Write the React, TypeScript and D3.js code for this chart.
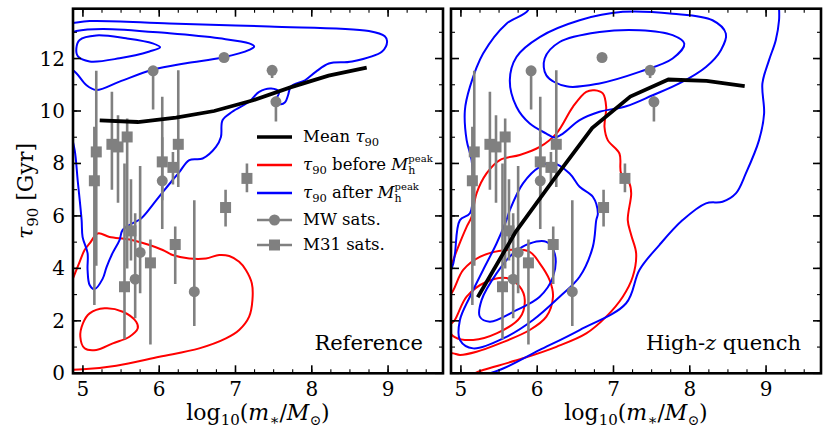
import React from "react";
import * as d3 from "d3";

type Pt = [number, number];
// [log10 mass, tau90, lower, upper]
type Sat = [number, number, number, number];

const W = 831;
const H = 441;
const FONT = "DejaVu Serif, Liberation Serif, serif";

// mean tau90 in bins of stellar mass
const massBins = [5.22, 5.72, 6.22, 6.72, 7.22, 7.72, 8.22, 8.72];
const meanReference = [9.64, 9.58, 9.75, 10.0, 10.4, 10.9, 11.35, 11.65];
const meanHighZ = [2.9, 5.4, 7.4, 9.35, 10.55, 11.2, 11.15, 10.95];

// observed satellites
const mwSats: Sat[] = [
  [5.92, 11.53, 10.06, 11.53],
  [6.85, 12.04, 12.04, 12.04],
  [7.48, 11.55, 11.26, 11.55],
  [7.53, 10.35, 9.6, 10.55],
  [6.04, 7.34, 5.5, 9.0],
  [5.75, 4.61, 3.05, 7.9],
  [5.685, 3.59, 2.1, 6.1],
  [6.46, 3.11, 1.8, 6.6],
];
const m31Sats: Sat[] = [
  [5.15, 7.34, 2.6, 9.4],
  [5.175, 8.44, 4.1, 11.53],
  [5.38, 8.73, 7.0, 10.73],
  [5.46, 8.63, 6.5, 9.84],
  [5.58, 9.01, 4.0, 9.71],
  [6.04, 8.06, 6.6, 10.54],
  [6.18, 7.85, 7.2, 8.44],
  [6.25, 8.73, 7.1, 11.55],
  [7.15, 7.43, 6.9, 8.0],
  [6.87, 6.32, 5.6, 7.0],
  [6.21, 4.91, 3.4, 5.6],
  [5.885, 4.21, 1.1, 5.1],
  [5.545, 3.3, 1.3, 8.0],
  [5.63, 5.43, 4.3, 7.4],
];

// Reference panel contours
const refAfterOuter: Pt[] = [
  [4.78, 13.36], [4.826, 13.34], [5.088, 13.43], [6.133, 13.34], [7.44, 13.22], [8.748, 13.05],
  [8.957, 12.85], [8.987, 12.65], [8.922, 12.27], [8.529, 11.89], [8.224, 11.81],
  [8.051, 11.49], [7.911, 11.17], [7.728, 10.94], [7.689, 10.6], [7.65, 10.33],
  [7.584, 10.26], [7.532, 10.41], [7.571, 10.72], [7.467, 10.86], [7.31, 10.73],
  [7.179, 10.35], [6.957, 9.97], [6.83, 9.65], [6.809, 9.01], [6.744, 8.63],
  [6.569, 8.19], [6.395, 8.13], [6.264, 7.67], [6.173, 7.36], [5.963, 6.6],
  [5.763, 5.9], [5.65, 5.72], [5.519, 5.46], [5.48, 5.08], [5.388, 4.58],
  [5.31, 4.05], [5.258, 3.6], [5.153, 3.21], [5.088, 3.37], [5.061, 3.94],
  [5.061, 4.58], [4.996, 5.19], [4.983, 5.84], [4.931, 7.37], [4.892, 8.51], [4.826, 9.27], [4.78, 9.6],
];
const refAfterMiddle: Pt[] = [
  [4.78, 12.9], [4.914, 13.05], [5.261, 13.13], [6.133, 12.96], [6.788, 12.77], [7.18, 12.58],
  [7.245, 12.46], [7.18, 12.33], [6.83, 12.04], [6.352, 11.82], [5.915, 11.57],
  [5.48, 11.12], [5.175, 10.8], [5.044, 10.99], [4.914, 11.44], [4.78, 11.75],
];
const refAfterInner: Pt[] = [
  [4.914, 12.39], [4.957, 12.71], [5.175, 12.88], [5.567, 12.77], [5.915, 12.58],
  [6.012, 12.43], [5.872, 12.27], [5.48, 12.01], [5.088, 11.89], [4.935, 12.08],
];
const refBeforeOuter: Pt[] = [
  [4.8, 3.1], [4.878, 3.68], [4.957, 4.25], [5.022, 4.7], [5.088, 4.95], [5.196, 5.33],
  [5.349, 5.2], [5.61, 5.1], [5.872, 4.89], [6.046, 4.7], [6.176, 4.51], [6.394, 4.38],
  [6.613, 4.38], [6.787, 4.51], [6.918, 4.47], [7.048, 4.25], [7.136, 3.94], [7.214, 3.43],
  [7.222, 2.79], [7.179, 2.16], [7.048, 1.65], [6.875, 1.33], [6.525, 0.95], [6.003, 0.63],
  [5.437, 0.29], [5.0, 0.15], [4.8, 0.14],
];
const refBeforeInner: Pt[] = [
  [5.0, 1.905], [5.088, 2.286], [5.284, 2.476], [5.523, 2.347], [5.698, 1.966],
  [5.719, 1.714], [5.61, 1.394], [5.392, 1.143], [5.175, 0.888], [5.022, 0.952], [4.966, 1.394],
];

// High-z quench panel contours
const hzAfterOuter: Pt[] = [
  [5.9, 14.5], [5.88, 13.84], [5.597, 13.33], [5.291, 12.19], [5.118, 10.92], [5.052, 10.03],
  [5.075, 8.89], [5.14, 8.13], [5.161, 7.11], [5.118, 6.1], [4.987, 5.84], [4.922, 4.57],
  [4.9, 4.19], [4.7, 2.5], [4.75, -0.3], [5.444, 0.06], [6.033, 0.89], [6.556, 1.65],
  [7.166, 2.67], [7.34, 3.94], [7.601, 4.89], [7.906, 5.84], [8.212, 6.48], [8.429, 6.54],
  [8.604, 6.86], [8.735, 7.62], [8.908, 8.89], [8.974, 9.9], [8.952, 11.05], [9.039, 11.94],
  [9.127, 12.7], [9.17, 13.46], [9.17, 13.92], [9.15, 14.5], [7.5, 14.8],
];
const hzAfterMiddle: Pt[] = [
  [8.473, 12.95], [8.298, 13.46], [7.775, 13.71], [7.122, 13.78], [6.556, 13.46],
  [6.033, 12.82], [5.728, 12.06], [5.641, 11.17], [5.728, 10.16], [5.902, 9.52],
  [6.12, 9.14], [6.229, 8.99], [6.337, 9.14], [6.556, 9.65], [6.817, 9.97], [7.166, 10.18],
  [7.514, 10.6], [7.863, 11.05], [8.212, 11.68], [8.408, 12.32],
];
const hzAfterInner: Pt[] = [
  [7.928, 12.57], [7.775, 12.89], [7.34, 13.08], [6.817, 13.01], [6.294, 12.63],
  [6.098, 12.0], [6.12, 11.36], [6.382, 10.94], [6.817, 11.05], [7.34, 11.49], [7.775, 12.0],
];
const hzAfterLowMid: Pt[] = [
  [6.207, 8.02], [6.425, 7.62], [6.556, 7.11], [6.729, 6.73], [6.795, 6.1], [6.774, 5.84],
  [6.729, 4.82], [6.556, 3.68], [6.294, 2.92], [5.945, 2.03], [5.597, 1.39], [5.161, 0.95],
  [4.987, 1.27], [4.987, 2.03], [5.118, 2.92], [5.291, 3.94], [5.467, 4.95], [5.597, 5.84],
  [5.641, 6.22], [5.814, 7.24], [6.033, 7.87],
];
const hzAfterLowInner: Pt[] = [
  [6.12, 5.01], [6.229, 4.57], [6.207, 3.68], [6.033, 2.92], [5.728, 2.41], [5.379, 1.97],
  [5.248, 2.16], [5.271, 2.79], [5.467, 3.81], [5.684, 4.57], [5.902, 4.95],
];
const hzBeforeOuter: Pt[] = [
  [6.752, 10.79], [6.643, 10.73], [6.468, 10.16], [6.251, 9.14], [6.033, 8.63], [5.771, 8.32],
  [5.51, 8.13], [5.336, 7.62], [5.205, 6.86], [5.14, 5.97], [5.075, 5.58], [4.965, 4.82],
  [4.9, 4.32], [4.7, 2.8], [4.8, -0.3], [5.29, 0.126], [5.814, 0.571], [6.251, 1.01],
  [6.643, 1.52], [6.905, 2.16], [7.122, 2.92], [7.252, 3.68], [7.297, 4.57], [7.232, 5.27],
  [7.187, 5.84], [7.232, 6.86], [7.209, 7.24], [7.1, 7.62], [7.078, 8.38], [6.925, 8.89],
  [6.882, 9.39], [6.904, 10.16], [6.86, 10.67],
];
const hzBeforeMiddle: Pt[] = [
  [4.8, 2.7], [4.9, 3.17], [5.03, 3.94], [5.248, 4.44], [5.597, 4.7], [5.902, 4.63],
  [6.033, 4.19], [6.163, 3.55], [6.207, 2.92], [6.12, 2.16], [5.902, 1.65], [5.51, 1.14],
  [5.205, 0.82], [4.987, 0.7], [4.9, 0.76], [4.8, 0.8],
];
const hzBeforeInner: Pt[] = [
  [4.92, 2.03], [5.075, 2.92], [5.336, 3.49], [5.597, 3.63], [5.771, 3.3], [5.837, 2.79],
  [5.771, 2.11], [5.467, 1.52], [5.161, 1.27], [4.92, 1.38], [4.83, 1.73],
];

const xTicks = [5, 6, 7, 8, 9];
const yTicks = [0, 2, 4, 6, 8, 10, 12];

interface Contour {
  pts: Pt[];
  color: string;
  closed: boolean;
}

const BLUE = "#0000ff";
const RED = "#ff0000";
const GREY = "#808080";

const refContours: Contour[] = [
  { pts: refBeforeOuter, color: RED, closed: false },
  { pts: refBeforeInner, color: RED, closed: true },
  { pts: refAfterOuter, color: BLUE, closed: false },
  { pts: refAfterMiddle, color: BLUE, closed: false },
  { pts: refAfterInner, color: BLUE, closed: true },
];
const hzContours: Contour[] = [
  { pts: hzBeforeOuter, color: RED, closed: true },
  { pts: hzBeforeMiddle, color: RED, closed: false },
  { pts: hzBeforeInner, color: RED, closed: true },
  { pts: hzAfterOuter, color: BLUE, closed: true },
  { pts: hzAfterMiddle, color: BLUE, closed: true },
  { pts: hzAfterInner, color: BLUE, closed: true },
  { pts: hzAfterLowMid, color: BLUE, closed: true },
  { pts: hzAfterLowInner, color: BLUE, closed: true },
];

const TOP = 8.7;
const BOTTOM = 373.3;

const yScale = d3.scaleLinear().domain([0, 13.9]).range([BOTTOM, TOP]);

function XLabel({ cx }: { cx: number }) {
  return (
    <text x={cx} y={420} textAnchor="middle" fontSize={22} fontFamily={FONT}>
      log
      <tspan fontSize={15} dy={5}>10</tspan>
      <tspan dy={-5}>(</tspan>
      <tspan fontStyle="italic">m</tspan>
      <tspan fontSize={15} dy={5}>∗</tspan>
      <tspan dy={-5}>/</tspan>
      <tspan fontStyle="italic">M</tspan>
      <tspan fontSize={14} dy={5}>⊙</tspan>
      <tspan dy={-5}>)</tspan>
    </text>
  );
}

function Panel({
  id,
  left,
  right,
  mean,
  contours,
  label,
  showY,
}: {
  id: string;
  left: number;
  right: number;
  mean: number[];
  contours: Contour[];
  label: React.ReactNode;
  showY: boolean;
}) {
  const x = d3.scaleLinear().domain([4.87, 9.72]).range([left, right]);
  const openLine = d3
    .line<Pt>()
    .x((d) => x(d[0]))
    .y((d) => yScale(d[1]))
    .curve(d3.curveCatmullRom.alpha(0.5));
  const closedLine = d3
    .line<Pt>()
    .x((d) => x(d[0]))
    .y((d) => yScale(d[1]))
    .curve(d3.curveCatmullRomClosed.alpha(0.5));
  const meanLine = d3
    .line<number>()
    .x((_, i) => x(massBins[i]))
    .y((d) => yScale(d));

  const xMinor = d3.range(4.75, 9.76, 0.25).filter((v) => v > 4.87 && v < 9.72);
  const yMinor = d3.range(0, 14, 1);

  const sats = (list: Sat[], square: boolean) =>
    list.map((s, i) => (
      <g key={i}>
        <line
          x1={x(s[0])}
          x2={x(s[0])}
          y1={yScale(s[2])}
          y2={yScale(s[3])}
          stroke={GREY}
          strokeWidth={2.6}
        />
        {square ? (
          <rect x={x(s[0]) - 5.5} y={yScale(s[1]) - 5.5} width={11} height={11} fill={GREY} />
        ) : (
          <circle cx={x(s[0])} cy={yScale(s[1])} r={5.5} fill={GREY} />
        )}
      </g>
    ));

  return (
    <g>
      <defs>
        <clipPath id={id}>
          <rect x={left} y={TOP} width={right - left} height={BOTTOM - TOP} />
        </clipPath>
      </defs>
      <g clipPath={`url(#${id})`}>
        {contours.map((c, i) => (
          <path
            key={i}
            d={(c.closed ? closedLine : openLine)(c.pts) || ""}
            fill="none"
            stroke={c.color}
            strokeWidth={2}
          />
        ))}
        {sats(mwSats, false)}
        {sats(m31Sats, true)}
        <path d={meanLine(mean) || ""} fill="none" stroke="#000" strokeWidth={3.8} />
      </g>
      {/* ticks, inward on all sides */}
      {xTicks.map((t) => (
        <g key={"xt" + t}>
          <line x1={x(t)} x2={x(t)} y1={BOTTOM} y2={BOTTOM - 8} stroke="#000" strokeWidth={1.6} />
          <line x1={x(t)} x2={x(t)} y1={TOP} y2={TOP + 8} stroke="#000" strokeWidth={1.6} />
          <text x={x(t)} y={396} textAnchor="middle" fontSize={20} fontFamily={FONT}>
            {t}
          </text>
        </g>
      ))}
      {xMinor.map((t) => (
        <g key={"xm" + t}>
          <line x1={x(t)} x2={x(t)} y1={BOTTOM} y2={BOTTOM - 4} stroke="#000" strokeWidth={1.1} />
          <line x1={x(t)} x2={x(t)} y1={TOP} y2={TOP + 4} stroke="#000" strokeWidth={1.1} />
        </g>
      ))}
      {yTicks.map((t) => (
        <g key={"yt" + t}>
          <line x1={left} x2={left + 8} y1={yScale(t)} y2={yScale(t)} stroke="#000" strokeWidth={1.6} />
          <line x1={right} x2={right - 8} y1={yScale(t)} y2={yScale(t)} stroke="#000" strokeWidth={1.6} />
          {showY && (
            <text
              x={left - 8}
              y={yScale(t) + 7}
              textAnchor="end"
              fontSize={20}
              fontFamily={FONT}
            >
              {t}
            </text>
          )}
        </g>
      ))}
      {yMinor.map((t) => (
        <g key={"ym" + t}>
          <line x1={left} x2={left + 4} y1={yScale(t)} y2={yScale(t)} stroke="#000" strokeWidth={1.1} />
          <line x1={right} x2={right - 4} y1={yScale(t)} y2={yScale(t)} stroke="#000" strokeWidth={1.1} />
        </g>
      ))}
      <rect
        x={left}
        y={TOP}
        width={right - left}
        height={BOTTOM - TOP}
        fill="none"
        stroke="#000"
        strokeWidth={2.6}
      />
      <text x={right - 20} y={350} textAnchor="end" fontSize={21} fontFamily={FONT}>
        {label}
      </text>
      <XLabel cx={(left + right) / 2} />
    </g>
  );
}

function Tau({ size }: { size: number }) {
  return (
    <>
      <tspan fontStyle="italic">τ</tspan>
      <tspan fontSize={size * 0.7} dy={4}>90</tspan>
      <tspan dy={-4}> </tspan>
    </>
  );
}

function Mpeak() {
  return (
    <>
      <tspan fontStyle="italic">M</tspan>
      <tspan fontSize={11} dy={4}>h</tspan>
      <tspan fontSize={10} dx={-7} dy={-12}>peak</tspan>
    </>
  );
}

function Legend() {
  const x0 = 257;
  const x1 = 292;
  const tx = 303;
  const fs = 16.5;
  const rows = [137, 165, 193, 220, 245];
  return (
    <g fontFamily={FONT} fontSize={fs}>
      <line x1={x0} x2={x1} y1={rows[0]} y2={rows[0]} stroke="#000" strokeWidth={3.6} />
      <text x={tx} y={rows[0] + 5}>
        Mean <tspan fontStyle="italic">τ</tspan>
        <tspan fontSize={11.5} dy={4}>90</tspan>
      </text>
      <line x1={x0} x2={x1} y1={rows[1]} y2={rows[1]} stroke={RED} strokeWidth={2.6} />
      <text x={tx} y={rows[1] + 5}>
        <Tau size={fs} />before <Mpeak />
      </text>
      <line x1={x0} x2={x1} y1={rows[2]} y2={rows[2]} stroke={BLUE} strokeWidth={2.6} />
      <text x={tx} y={rows[2] + 5}>
        <Tau size={fs} />after <Mpeak />
      </text>
      <line x1={x0} x2={x1} y1={rows[3]} y2={rows[3]} stroke={GREY} strokeWidth={2.6} />
      <circle cx={(x0 + x1) / 2} cy={rows[3]} r={5.5} fill={GREY} />
      <text x={tx} y={rows[3] + 5}>MW sats.</text>
      <line x1={x0} x2={x1} y1={rows[4]} y2={rows[4]} stroke={GREY} strokeWidth={2.6} />
      <rect x={(x0 + x1) / 2 - 5.5} y={rows[4] - 5.5} width={11} height={11} fill={GREY} />
      <text x={tx} y={rows[4] + 5}>M31 sats.</text>
    </g>
  );
}

export default function App() {
  return (
    <svg
      width={W}
      height={H}
      style={{ position: "absolute", left: 0, top: 0, background: "#fff" }}
    >
      <rect width={W} height={H} fill="#fff" />
      <Panel
        id="clipRef"
        left={73}
        right={443}
        mean={meanReference}
        contours={refContours}
        label="Reference"
        showY={true}
      />
      <Panel
        id="clipHz"
        left={451}
        right={821}
        mean={meanHighZ}
        contours={hzContours}
        label={
          <>
            High-<tspan fontStyle="italic">z</tspan> quench
          </>
        }
        showY={false}
      />
      <Legend />
      <text
        transform={`translate(33, ${(TOP + BOTTOM) / 2}) rotate(-90)`}
        textAnchor="middle"
        fontSize={22}
        fontFamily={FONT}
      >
        <tspan fontStyle="italic">τ</tspan>
        <tspan fontSize={15} dy={5}>90</tspan>
        <tspan dy={-5}> [Gyr]</tspan>
      </text>
    </svg>
  );
}
